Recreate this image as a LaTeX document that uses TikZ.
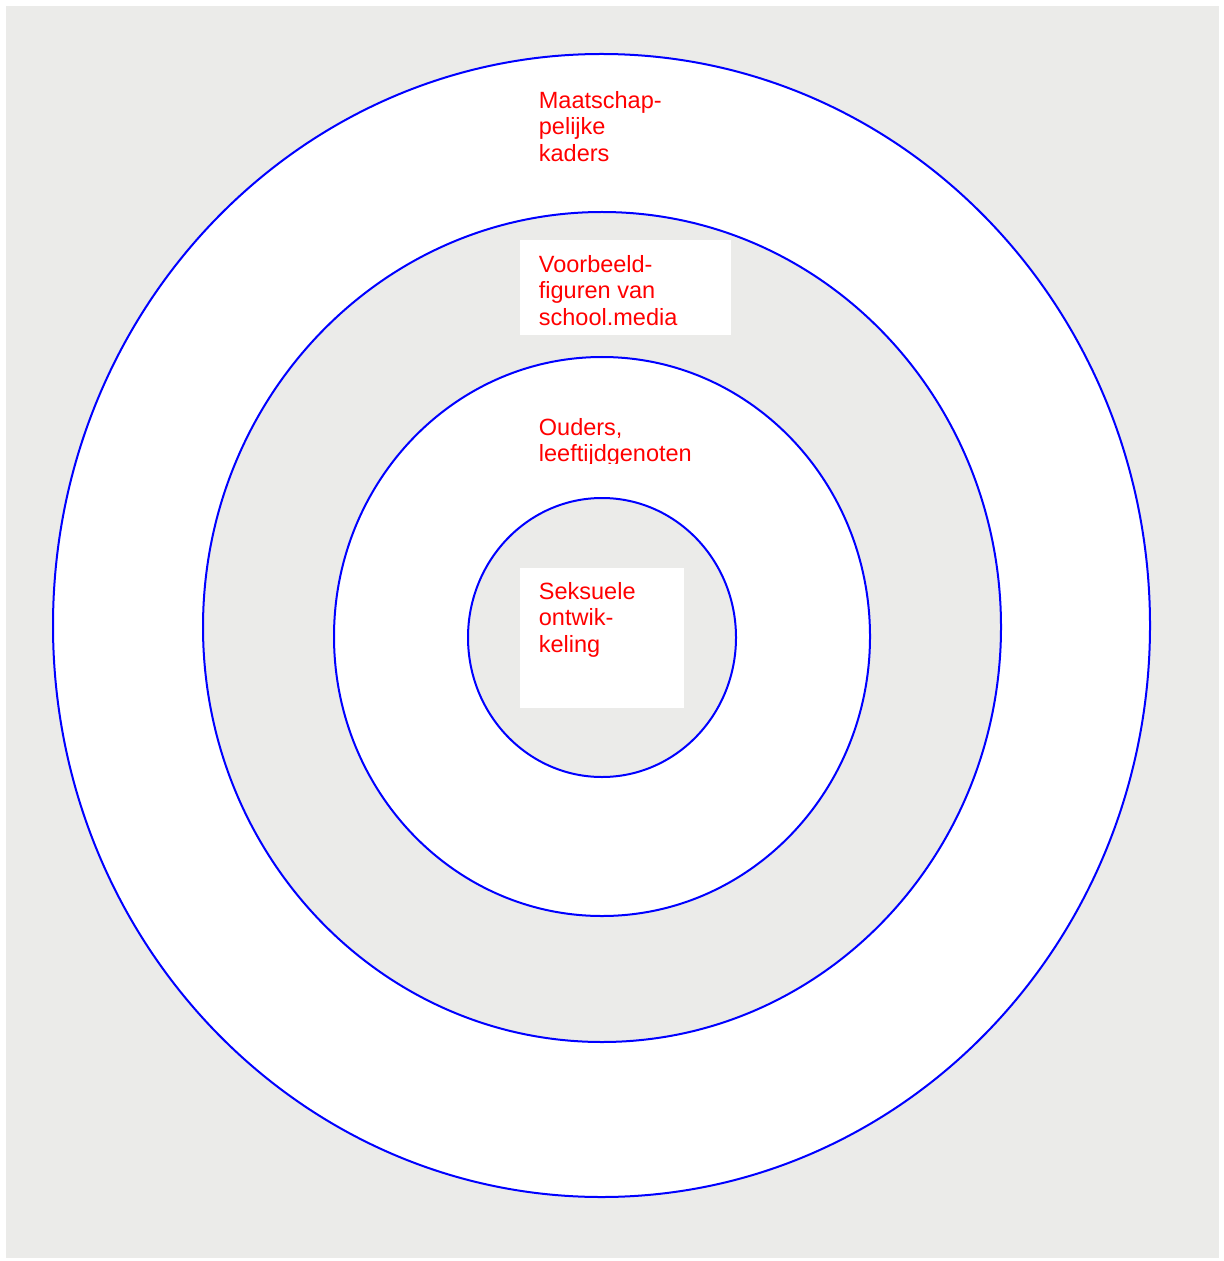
\documentclass[tikz,border=0pt]{standalone}
\usepackage{fontspec}
\setmainfont{Liberation Sans}
\usetikzlibrary{shapes.geometric}
\definecolor{grain}{RGB}{235,235,233}
\newcommand\Fill{white}

\begin{document}
\begin{tikzpicture}[x=0.5pt, y=-0.5pt,
    ring/.style={ellipse, draw=blue, line width=1pt, inner sep=0pt},
    patch/.style={fill=white, inner sep=0pt},
    lbl/.style={anchor=north west, inner sep=0pt, align=left, text=red,
      font=\fontsize{11.75}{13.2}\selectfont}]
  \useasboundingbox (0,0) rectangle (1223,1261);
  \fill[grain] (6,6) rectangle (1219,1258);

  % rings, outside in
  \foreach \n/\cx/\cy/\rx/\ry in {1/601.5/625.5/548.5/571.5, 2/602/627/399/415,
                                  3/602/636.5/268/279.5, 4/602/637.5/134/139.5}{
    \ifodd\n
      \renewcommand\Fill{white}
    \else
      \renewcommand\Fill{grain}
    \fi
    \node[ring, fill=\Fill, minimum width=\rx pt, minimum height=\ry pt] (r\n) at (\cx,\cy) {};
  }

  \node[patch, minimum width=105.5pt, minimum height=47.5pt] (p2) at (625.5,287.5) {};
  \node[patch, minimum width=82pt, minimum height=70pt] (p4) at (602,638) {};

  \node[lbl] (t1) at (538.5,91) {Maatschap-\\pelijke\\kaders};
  \node[lbl] (t2) at (538.5,255) {Voorbeeld-\\figuren van\\school.media};
  \begin{scope}
    \clip (520,400) rectangle (760,463);
    \node[lbl] (t3) at (538.5,418) {Ouders,\\leeftijdgenoten};
  \end{scope}
  \node[lbl] (t4) at (538.5,582) {Seksuele\\ontwik-\\keling};
\end{tikzpicture}
\end{document}
